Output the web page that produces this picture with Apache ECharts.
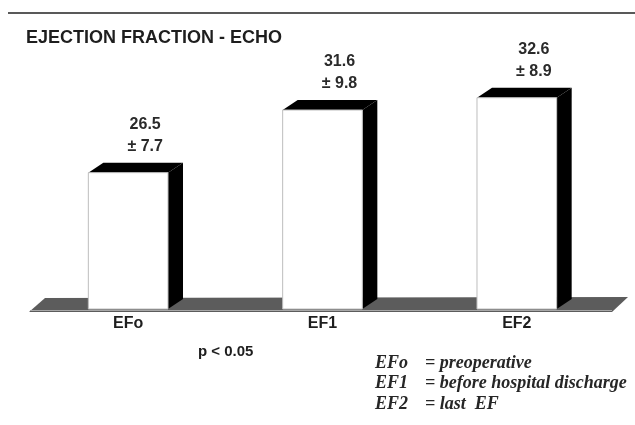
<!DOCTYPE html>
<html><head><meta charset="utf-8">
<script src="https://cdn.jsdelivr.net/npm/echarts@6/dist/echarts.min.js"></script>
<style>html,body{margin:0;padding:0;background:#fff}#c{width:635px;height:425px}</style>
</head><body><div id="c"></div>
<script>
const categories = ['EFo', 'EF1', 'EF2'];
const meanValues = [26.5, 31.6, 32.6];
const sdValues = [7.7, 9.8, 8.9];
const legendKeys = ['EFo', 'EF1', 'EF2'];
const legendDescs = ['preoperative', 'before hospital discharge', 'last  EF'];
const titleText = 'EJECTION FRACTION - ECHO';
const noteText = 'p < 0.05';

const Y_MIN = 15.4, Y_MAX = 37.3;
const DX = 15, DY = -10;
const SANS = "'Liberation Sans', Arial, sans-serif";
const SERIF = "'Liberation Serif', 'Times New Roman', serif";

function txt(text, x, y, opts) {
  return {
    type: 'text', x: x, y: y, silent: true, z: 10,
    style: Object.assign({
      text: text, fill: '#1e1e1e', fontFamily: SANS, fontWeight: 'bold', fontSize: 14,
      align: 'left', verticalAlign: 'middle', textAlign: 'left', textVerticalAlign: 'middle'
    }, opts || {})
  };
}

function renderBar(params, api) {
  const cat = api.value(0);
  const v = api.value(1);
  const sd = api.value(2);
  const top = api.coord([cat, v]);
  const base = api.coord([cat, Y_MIN]);
  const w = api.size([1, 0])[0] * 0.41;
  const xL = top[0] - w / 2, xR = top[0] + w / 2, yT = top[1], yB = base[1];
  const lx = top[0] + 17;
  const lab = { fontSize: 16, fill: '#2a2a2a', align: 'center', textAlign: 'center' };
  return {
    type: 'group',
    children: [
      { type: 'polygon', shape: { points: [[xR, yB], [xR, yT], [xR + DX, yT + DY], [xR + DX, yB + DY]] }, style: { fill: '#000' } },
      { type: 'polygon', shape: { points: [[xL, yT], [xL + DX, yT + DY], [xR + DX, yT + DY], [xR, yT]] }, style: { fill: '#000' } },
      { type: 'rect', shape: { x: xL, y: yT, width: w, height: yB - yT }, style: { fill: '#fff', stroke: '#bdbdbd', lineWidth: 1 } },
      txt(v.toFixed(1), lx, yT + DY - 38, lab),
      txt('\u00B1 ' + sd.toFixed(1), lx, yT + DY - 16, lab)
    ]
  };
}

const graphics = [
  { type: 'line', shape: { x1: 8, y1: 13, x2: 635, y2: 13 }, style: { stroke: '#222', lineWidth: 1.5 }, silent: true },
  txt(titleText, 26, 38, { fontSize: 18 }),
  { type: 'polygon', shape: { points: [[29, 312], [45, 298], [628, 297], [612, 312]] }, style: { fill: '#5c5c5c' }, z: 0, silent: true },
  { type: 'line', shape: { x1: 30, y1: 310.5, x2: 612, y2: 310.5 }, style: { stroke: '#a8a8a8', lineWidth: 1 }, z: 1, silent: true },
  txt(noteText, 198, 352, { fontSize: 15 })
];
const legendY = [363, 383, 404];
legendKeys.forEach(function (k, i) {
  const f = { fontFamily: SERIF, fontStyle: 'italic', fontWeight: 'bold', fontSize: 18, fill: '#262626' };
  graphics.push(txt(k, 375, legendY[i], f));
  graphics.push(txt('= ' + legendDescs[i], 425, legendY[i], f));
});

const chart = echarts.init(document.getElementById('c'), null, { renderer: 'canvas' });
chart.setOption({
  animation: false,
  backgroundColor: '#fff',
  grid: { left: 31, right: 21, top: 40, bottom: 116 },
  xAxis: {
    type: 'category', data: categories,
    axisLine: { show: false }, axisTick: { show: false },
    axisLabel: { margin: 7, fontFamily: SANS, fontWeight: 'bold', fontSize: 16, color: '#1e1e1e' }
  },
  yAxis: { type: 'value', min: Y_MIN, max: Y_MAX, show: false, splitLine: { show: false } },
  series: [{
    type: 'custom',
    renderItem: renderBar,
    encode: { x: 0, y: 1 },
    data: categories.map(function (c, i) { return [i, meanValues[i], sdValues[i]]; })
  }],
  graphic: graphics
});
</script></body></html>
